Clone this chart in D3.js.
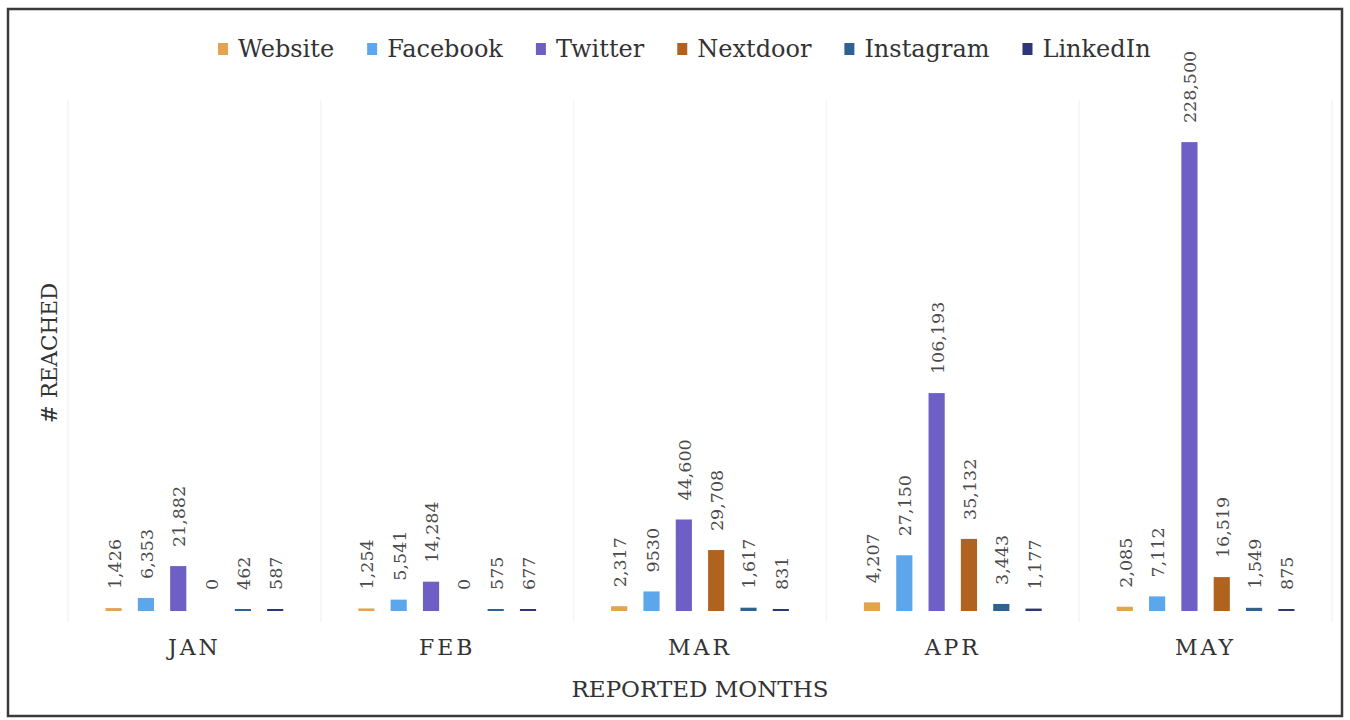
<!DOCTYPE html>
<html>
<head>
<meta charset="utf-8">
<script src="https://cdn.jsdelivr.net/npm/d3@7"></script>
<style>
  html, body { margin: 0; padding: 0; background: #fff; }
  svg { display: block; }
</style>
</head>
<body>
<svg id="chart" width="1350" height="720"></svg>
<script>
// ---- data ----
const months = ["JAN", "FEB", "MAR", "APR", "MAY"];
const seriesNames = ["Website", "Facebook", "Twitter", "Nextdoor", "Instagram", "LinkedIn"];
const website   = [1426, 1254, 2317, 4207, 2085];
const facebook  = [6353, 5541, 9530, 27150, 7112];
const twitter   = [21882, 14284, 44600, 106193, 228500];
const nextdoor  = [0, 0, 29708, 35132, 16519];
const instagram = [462, 575, 1617, 3443, 1549];
const linkedin  = [587, 677, 831, 1177, 875];
// labels as printed on the chart
const websiteLabels   = ["1,426", "1,254", "2,317", "4,207", "2,085"];
const facebookLabels  = ["6,353", "5,541", "9530", "27,150", "7,112"];
const twitterLabels   = ["21,882", "14,284", "44,600", "106,193", "228,500"];
const nextdoorLabels  = ["0", "0", "29,708", "35,132", "16,519"];
const instagramLabels = ["462", "575", "1,617", "3,443", "1,549"];
const linkedinLabels  = ["587", "677", "831", "1,177", "875"];
const colors = ["#E3A34F", "#5CA6EC", "#6D5FC6", "#B2621F", "#2F6192", "#2E3578"];

const seriesValues = [website, facebook, twitter, nextdoor, instagram, linkedin];
const seriesLabels = [websiteLabels, facebookLabels, twitterLabels, nextdoorLabels, instagramLabels, linkedinLabels];

const FONT = "'DejaVu Serif', 'Liberation Serif', serif";
const svg = d3.select("#chart");

// border
svg.append("rect")
  .attr("x", 8).attr("y", 9).attr("width", 1334).attr("height", 707)
  .attr("fill", "none").attr("stroke", "#3a3a3a").attr("stroke-width", 2.5);

// scales
const x0 = d3.scaleBand().domain(months).range([68, 1332]).padding(0);
const x1 = d3.scaleBand().domain(seriesNames).range([0, x0.bandwidth()])
  .paddingInner(0.5).paddingOuter(1.16);
const y = d3.scaleLinear().domain([0, 250000]).range([611, 98]);
const color = d3.scaleOrdinal().domain(seriesNames).range(colors);

// faint separators
const seps = months.map(m => x0(m)).concat([x0.range()[1]]);
svg.append("g").selectAll("line").data(seps).join("line")
  .attr("x1", d => d).attr("x2", d => d)
  .attr("y1", 100).attr("y2", 622)
  .attr("stroke", "#f5f5f5").attr("stroke-width", 1.5);

// data table
const rows = [];
months.forEach((m, i) => {
  seriesNames.forEach((s, j) => {
    rows.push({ month: m, series: s, value: seriesValues[j][i], label: seriesLabels[j][i] });
  });
});

const g = svg.append("g");
g.selectAll("rect.bar").data(rows.filter(d => d.value > 0)).join("rect")
  .attr("class", "bar")
  .attr("x", d => x0(d.month) + x1(d.series))
  .attr("width", x1.bandwidth())
  .attr("y", d => Math.min(y(d.value), y(0) - 2))
  .attr("height", d => Math.max(2, y(0) - y(d.value)))
  .attr("fill", d => color(d.series));

// value labels
g.selectAll("text.val").data(rows).join("text")
  .attr("class", "val")
  .attr("transform", d => {
    const cx = x0(d.month) + x1(d.series) + x1.bandwidth() / 2 + 1;
    const cy = Math.min(y(d.value), y(0) - 2) - 19;
    return `translate(${cx},${cy}) rotate(-90)`;
  })
  .attr("dominant-baseline", "central")
  .attr("text-anchor", "start")
  .attr("font-family", FONT)
  .attr("font-size", 17.5)
  .attr("fill", "#4a4a4a")
  .text(d => d.label);

// x axis (labels only)
const xAxis = svg.append("g")
  .attr("transform", `translate(0,${y(0) + 20})`)
  .call(d3.axisBottom(x0).tickSize(0).tickPadding(8));
xAxis.select(".domain").remove();
xAxis.selectAll("text")
  .attr("font-family", FONT)
  .attr("font-size", 22)
  .attr("letter-spacing", "3px")
  .attr("fill", "#333");

// axis titles
svg.append("text")
  .attr("x", 700).attr("y", 697)
  .attr("text-anchor", "middle")
  .attr("font-family", FONT).attr("font-size", 23).attr("fill", "#333")
  .text("REPORTED MONTHS");

svg.append("text")
  .attr("transform", "translate(57,353) rotate(-90)")
  .attr("text-anchor", "middle")
  .attr("font-family", FONT).attr("font-size", 21.5).attr("fill", "#333")
  .text("# REACHED");

// legend
const legend = svg.append("g");
let lx = 218;
seriesNames.forEach((s, i) => {
  legend.append("rect").attr("x", lx).attr("y", 43).attr("width", 10).attr("height", 12)
    .attr("fill", colors[i]);
  const t = legend.append("text").attr("x", lx + 20).attr("y", 57)
    .attr("font-family", FONT).attr("font-size", 24).attr("fill", "#333")
    .text(s);
  lx += 20 + t.node().getComputedTextLength() + 33;
});
</script>
</body>
</html>
